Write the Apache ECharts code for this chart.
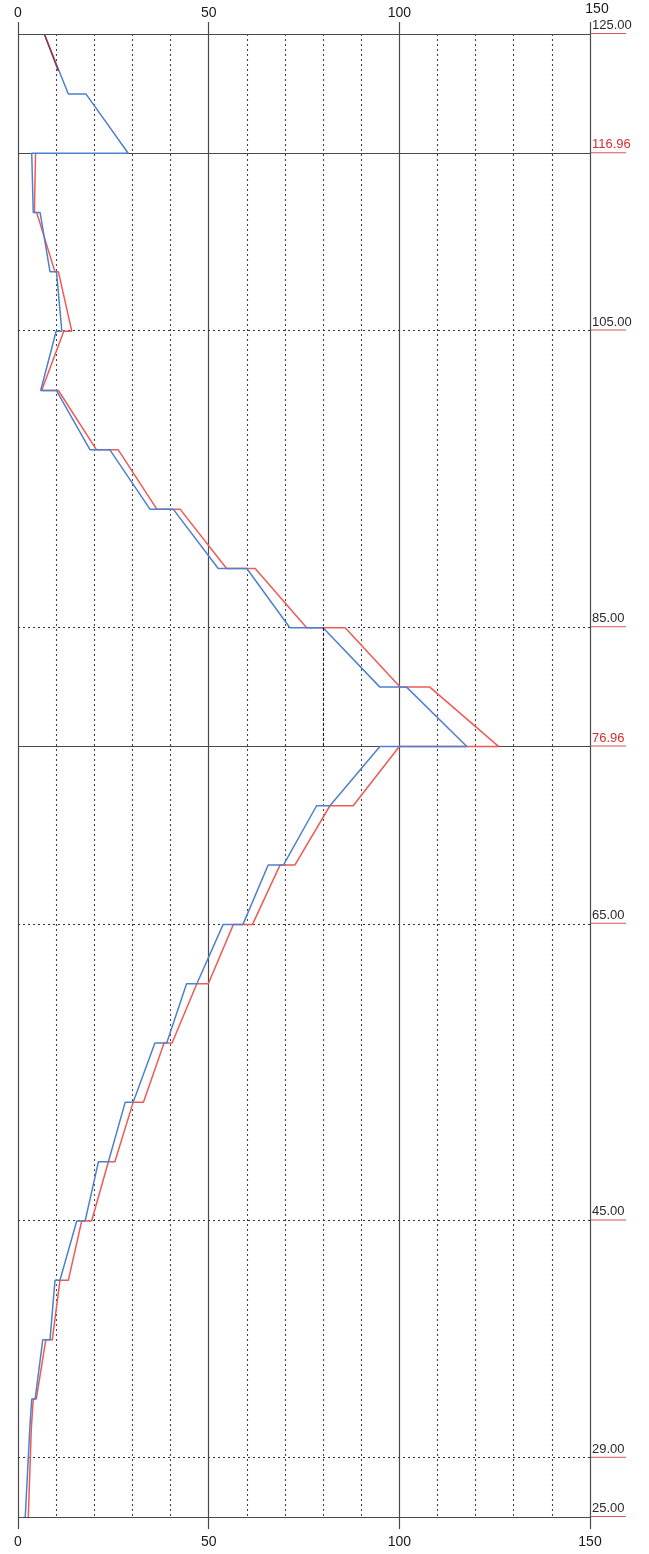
<!DOCTYPE html>
<html>
<head>
<meta charset="utf-8">
<script src="https://cdn.jsdelivr.net/npm/echarts@6.0.0/dist/echarts.min.js"></script>
<style>
  html, body { margin: 0; padding: 0; background: #fff; }
  #chart { width: 649px; height: 1554px; }
</style>
</head>
<body>
<div id="chart"></div>
<script>
// Axis range and tick values
const xMin = 0, xMax = 150, xStep = 50;
const yMin = 25, yMax = 125;

// Reference elevations marked across the profile
const levelValues = [125, 116.96, 105, 85, 76.96, 65, 45, 29, 25];
const solidLevels = [125, 116.96, 76.96, 25];
const redLevels = [116.96, 76.96];

// Blue profile: [value, elevation]
const blueLine = [
  [6.9, 125], [13.2, 120.96], [17.8, 120.96], [28.9, 116.96],
  [3.6, 116.96], [4.0, 112.96], [5.8, 112.96], [8.4, 108.96], [10.1, 108.96],
  [11.5, 104.96], [10.0, 104.96], [5.95, 100.96], [10.1, 100.96],
  [18.9, 96.96], [24.1, 96.96], [34.6, 92.96], [40.7, 92.96],
  [52.5, 88.96], [60.0, 88.96], [71.3, 84.96], [80.0, 84.96],
  [94.9, 80.96], [101.9, 80.96], [117.7, 76.96],
  [94.9, 76.96], [81.8, 72.96], [78.3, 72.96], [69.6, 68.96], [65.6, 68.96],
  [59.0, 64.96], [53.8, 64.96], [46.9, 60.96], [44.2, 60.96],
  [39.0, 56.96], [35.9, 56.96], [30.2, 52.96], [28.1, 52.96],
  [23.7, 48.96], [21.1, 48.96], [17.6, 44.96], [15.4, 44.96],
  [11.0, 40.96], [9.7, 40.96], [8.4, 36.96], [6.5, 36.96],
  [4.5, 32.96], [3.6, 32.96], [3.1, 31.0], [1.9, 25]
];

// Red profile: [value, elevation]
const redTop = [[6.9, 125], [10.6, 122.5]];
const redLine = [
  [4.6, 116.96], [4.3, 112.96], [4.9, 112.96], [9.7, 108.96], [10.6, 108.96],
  [14.1, 104.96], [12.0, 104.96], [6.2, 100.96], [10.6, 100.96],
  [20.6, 96.96], [26.3, 96.96], [36.4, 92.96], [42.5, 92.96],
  [54.7, 88.96], [62.2, 88.96], [75.7, 84.96], [85.8, 84.96],
  [100.2, 80.96], [108.0, 80.96], [126.0, 76.96],
  [100.0, 76.96], [87.9, 72.96], [81.8, 72.96], [72.6, 68.96], [68.7, 68.96],
  [61.5, 64.96], [56.5, 64.96], [49.9, 60.96], [46.9, 60.96],
  [40.4, 56.96], [38.3, 56.96], [32.9, 52.96], [30.2, 52.96],
  [25.4, 48.96], [23.7, 48.96], [19.3, 44.96], [16.7, 44.96],
  [13.2, 40.96], [11.0, 40.96], [9.0, 36.96], [7.3, 36.96],
  [4.8, 32.96], [4.0, 32.96], [3.5, 31.0], [2.7, 25]
];

// Dashed guide between the 85 and 76.96 levels
const guideLine = [[80.1, 84.96], [80.1, 76.96]];

const FONT = 'Liberation Sans, Arial, sans-serif';
const BLUE = '#4f80cc';
const RED = '#f05a55';
const GRID = '#4a4a4a';

const levelMarks = levelValues.map(v => {
  const solid = solidLevels.includes(v);
  const red = redLevels.includes(v);
  return {
    yAxis: v,
    lineStyle: solid
      ? { color: GRID, width: 1.2, type: 'solid' }
      : { color: '#333', width: 1.1, type: [2, 3] },
    label: {
      show: true,
      position: 'end',
      align: 'left',
      verticalAlign: 'bottom',
      distance: 1,
      formatter: '{t|' + v.toFixed(2) + '}\n{u|}',
      rich: {
        t: { fontFamily: FONT, fontSize: 13, color: red ? '#d42f2f' : '#2a2a2a', padding: [0, 0, 1, 1] },
        u: { width: 35, height: 1, lineHeight: 1, backgroundColor: '#e4505e' }
      }
    }
  };
});

const axisCommon = {
  type: 'value',
  min: xMin,
  max: xMax,
  interval: xStep,
  axisLine: { show: false },
  axisTick: { show: true, length: 12, lineStyle: { color: GRID, width: 1.2 } }
};

const chart = echarts.init(document.getElementById('chart'));
chart.setOption({
  animation: false,
  backgroundColor: '#fff',
  grid: { left: 18, right: 59, top: 34, bottom: 37 },
  xAxis: [
    Object.assign({}, axisCommon, {
      position: 'bottom',
      axisLabel: { color: '#1a1a1a', fontFamily: FONT, fontSize: 14, margin: 18 },
      splitLine: { show: true, lineStyle: { color: GRID, width: 1.2 } },
      minorTick: { show: false, splitNumber: 5 },
      minorSplitLine: { show: true, lineStyle: { color: '#444', width: 1.1, type: [2, 3] } }
    }),
    Object.assign({}, axisCommon, {
      position: 'top',
      axisLabel: {
        color: '#1a1a1a', fontFamily: FONT, fontSize: 14, margin: 14,
        formatter: v => v === xMax ? '{r|' + v + '}' : String(v),
        rich: { r: { color: '#1a1a1a', fontFamily: FONT, fontSize: 14, padding: [0, 0, 4, 14] } }
      },
      splitLine: { show: false }
    })
  ],
  yAxis: { type: 'value', min: yMin, max: yMax, show: false },
  series: [
    {
      type: 'line',
      data: redLine,
      symbol: 'none',
      z: 2,
      lineStyle: { color: RED, width: 1.5 },
      markLine: { silent: true, symbol: 'none', data: levelMarks, z: 1 }
    },
    {
      type: 'line',
      data: blueLine,
      symbol: 'none',
      z: 3,
      lineStyle: { color: BLUE, width: 1.5 }
    },
    {
      type: 'line',
      data: redTop,
      symbol: 'none',
      z: 4,
      lineStyle: { color: '#9b3040', width: 1.5 }
    },
    {
      type: 'line',
      data: guideLine,
      symbol: 'none',
      z: 4,
      lineStyle: { color: '#111', width: 1, type: [3, 2] }
    }
  ]
});
</script>
</body>
</html>
